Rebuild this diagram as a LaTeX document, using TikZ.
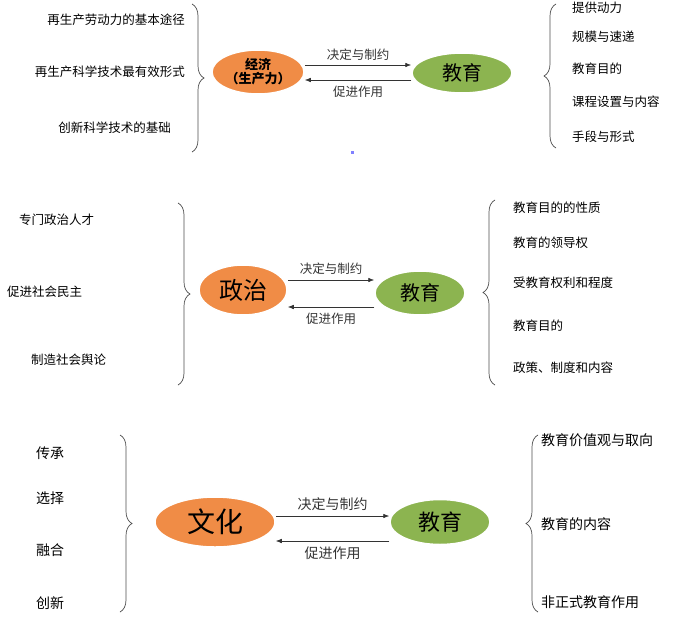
\documentclass[tikz,border=0pt]{standalone}
\usepackage{fontspec}
\setmainfont{Noto Sans CJK SC}
\usetikzlibrary{decorations.pathreplacing,arrows.meta}
\definecolor{org}{RGB}{240,140,70}
\definecolor{grn}{RGB}{140,180,80}
\tikzset{
 lbl/.style={font=\fontsize{12.5}{14}\selectfont,inner sep=1pt},
 lbb/.style={font=\fontsize{14}{16}\selectfont,inner sep=1pt},
 org/.style={ellipse,fill=org,draw=white,line width=1.5pt,minimum width=#1,font=\bfseries},
 grn/.style={ellipse,fill=grn,draw=white,line width=1.5pt,minimum width=#1,font=\bfseries},
 arr/.style={-{Latex[length=6pt]},line width=0.6pt,black!80},
 br/.style={decorate,decoration={brace,amplitude=12pt},line width=0.7pt,black!70},
}
\usetikzlibrary{shapes.geometric}
\begin{document}
\begin{tikzpicture}[x=1pt,y=-1pt]
\useasboundingbox (0,0) rectangle (700,626);
% section 1
\node[lbl,anchor=east] (l11) at (186,20) {再生产劳动力的基本途径};
\node[lbl,anchor=east] (l12) at (186,72) {再生产科学技术最有效形式};
\node[lbl,anchor=east] (l13) at (172,128) {创新科学技术的基础};
\draw[br] (192,4) -- (192,152);
\node[org=92pt,minimum height=44pt,font=\fontsize{13}{14}\selectfont\bfseries,align=center,inner sep=0pt] (e1) at (258,72) {经济\\（生产力）};
\node[grn=100pt,minimum height=40pt,font=\fontsize{20}{22}\selectfont] (g1) at (462,73) {教育};
\draw[arr] (e1.east |- 0,65) -- (g1.west |- 0,65) node[midway,above=3pt,lbl] (t1) {决定与制约};
\draw[arr] (g1.west |- 0,80) -- (e1.east |- 0,80) node[midway,below=5pt,lbl] (b1) {促进作用};
\draw[br] (556,148) -- (556,4);
\node[lbl,anchor=west] (r11) at (571,8) {提供动力};
\node[lbl,anchor=west] (r12) at (571,37) {规模与速递};
\node[lbl,anchor=west] (r13) at (571,69) {教育目的};
\node[lbl,anchor=west] (r14) at (571,102) {课程设置与内容};
\node[lbl,anchor=west] (r15) at (571,137) {手段与形式};
\node[fill=blue!50,minimum size=3pt,inner sep=0pt] (sq) at (352,152) {};
% section 2
\node[lbl,anchor=west] (l21) at (18,220) {专门政治人才};
\node[lbl,anchor=west] (l22) at (6,292) {促进社会民主};
\node[lbl,anchor=west] (l23) at (30,360) {制造社会舆论};
\draw[br] (178,203) -- (178,385);
\node[org=88pt,minimum height=50pt,font=\fontsize{24}{26}\selectfont] (e2) at (243,290) {政治};
\node[grn=90pt,minimum height=44pt,font=\fontsize{20}{22}\selectfont] (g2) at (420,293) {教育};
\draw[arr] (e2.east |- 0,280) -- (g2.west |- 0,280) node[midway,above=4pt,lbl] (t2) {决定与制约};
\draw[arr] (g2.west |- 0,307) -- (e2.east |- 0,307) node[midway,below=5pt,lbl] (b2) {促进作用};
\draw[br] (495,385) -- (495,200);
\node[lbl,anchor=west] (r21) at (512,208) {教育目的的性质};
\node[lbl,anchor=west] (r22) at (512,243) {教育的领导权};
\node[lbl,anchor=west] (r23) at (512,283) {受教育权利和程度};
\node[lbl,anchor=west] (r24) at (512,326) {教育目的};
\node[lbl,anchor=west] (r25) at (512,368) {政策、制度和内容};
% section 3
\node[lbb,anchor=west] (l31) at (35,453) {传承};
\node[lbb,anchor=west] (l32) at (35,498) {选择};
\node[lbb,anchor=west] (l33) at (35,550) {融合};
\node[lbb,anchor=west] (l34) at (35,603) {创新};
\draw[br] (120,435) -- (120,612);
\node[org=120pt,minimum height=50pt,font=\fontsize{28}{30}\selectfont] (e3) at (215,522) {文化};
\node[grn=100pt,minimum height=45pt,font=\fontsize{22}{24}\selectfont] (g3) at (440,522) {教育};
\draw[arr] (e3.east |- 0,516) -- (g3.west |- 0,516) node[midway,above=4pt,lbb] (t3) {决定与制约};
\draw[arr] (g3.west |- 0,541) -- (e3.east |- 0,541) node[midway,below=4pt,lbb] (b3) {促进作用};
\draw[br] (538,612) -- (538,435);
\node[lbb,anchor=west] (r31) at (540,440) {教育价值观与取向};
\node[lbb,anchor=west] (r32) at (540,524) {教育的内容};
\node[lbb,anchor=west] (r33) at (540,602) {非正式教育作用};
\end{tikzpicture}
\end{document}
